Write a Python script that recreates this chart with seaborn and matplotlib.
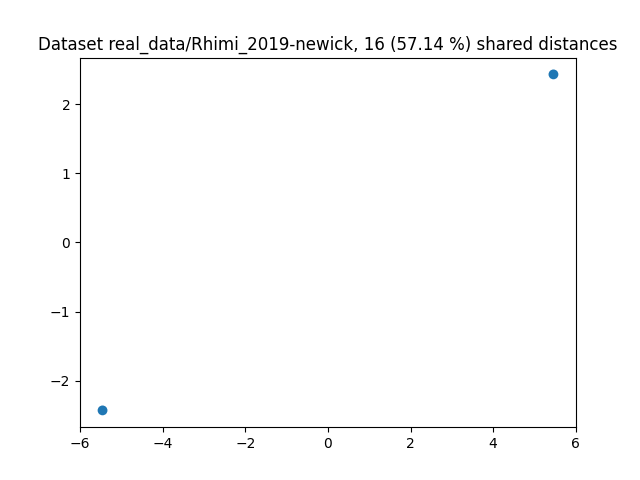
import matplotlib
matplotlib.use("Agg")
import matplotlib.pyplot as plt
import seaborn as sns

x_vals = [-5.46, 5.46]
y_vals = [-2.43, 2.43]
title = "Dataset real_data/Rhimi_2019-newick, 16 (57.14 %) shared distances"

fig, ax = plt.subplots(figsize=(6.4, 4.8), dpi=100)
sns.scatterplot(x=x_vals, y=y_vals, ax=ax, color="#1f77b4", s=50, edgecolor="none")
ax.set_title(title)
fig.savefig("out.png")
